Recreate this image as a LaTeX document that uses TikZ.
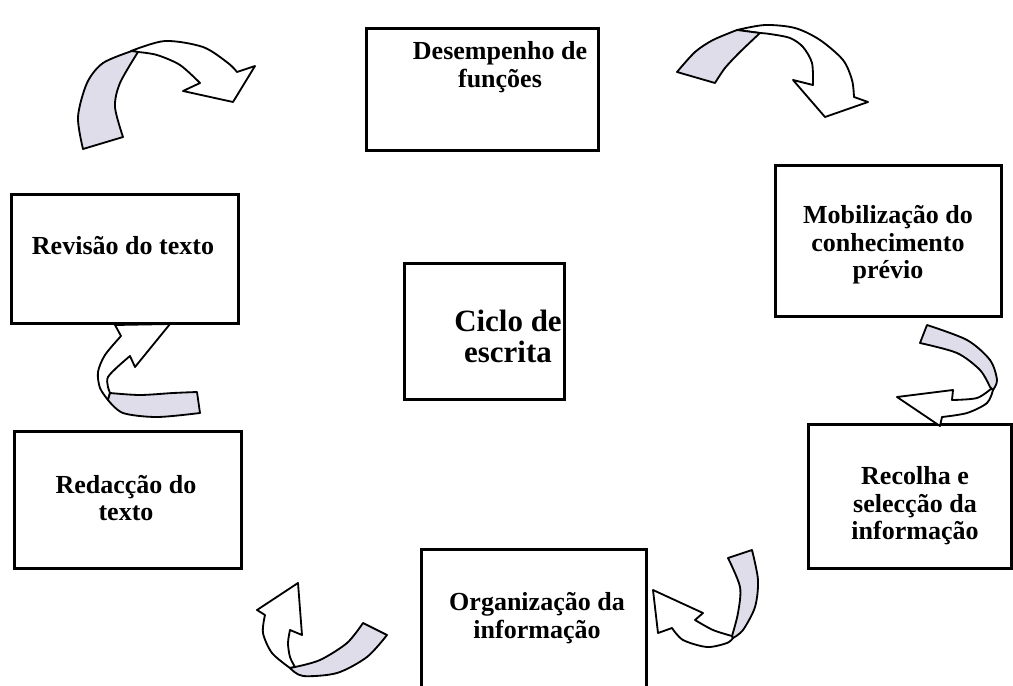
\documentclass[tikz,border=0pt]{standalone}
\usepackage{fontspec}
\setmainfont{Liberation Serif}
\usepackage{tikz}
\definecolor{ribbon}{RGB}{224,221,235}
\tikzset{x=0.025cm, y=-0.025cm,
  stage/.style={draw, line width=2pt, inner sep=0pt, anchor=north west},
  caption/.style={font=\bfseries\fontsize{18.5}{19.5}\selectfont, align=center},
  ribbonback/.style={draw, line width=1.3pt, fill=ribbon, line join=round},
  ribbonhead/.style={draw, line width=1.3pt, fill=white, line join=round}}

\begin{document}
\begin{tikzpicture}
  \clip (0,0) rectangle (1013,685);
  \fill[white] (0,0) rectangle (1013,685);

  % boxes
  \node[stage, minimum width=5.8cm, minimum height=3.05cm] (des) at (365,27) {};
  \node[stage, minimum width=5.65cm, minimum height=3.775cm] (mob) at (774,164) {};
  \node[stage, minimum width=5.675cm, minimum height=3.225cm] (rev) at (10,193) {};
  \node[stage, minimum width=4cm, minimum height=3.4cm] (cic) at (403,262) {};
  \node[stage, minimum width=5.075cm, minimum height=3.6cm] (rec) at (807,423) {};
  \node[stage, minimum width=5.675cm, minimum height=3.425cm] (red) at (13,430) {};
  \node[stage, minimum width=5.625cm, minimum height=3.8cm] (org) at (420,548) {};

  % texts
  \node[caption] (desT) at (500,67) {Desempenho de\\funções};
  \node[caption] (mobT) at (888,245) {Mobilização do\\conhecimento\\prévio};
  \node[caption] (revT) at (123,246) {Revisão do texto};
  \node[caption, font=\bfseries\fontsize{22}{22}\selectfont] (cicT) at (508,336) {Ciclo de\\escrita};
  \node[caption] (recT) at (915,506) {Recolha e\\selecção da\\informação};
  \node[caption] (redT) at (126,498) {Redacção do\\texto};
  \node[caption] (orgT) at (537,618) {Organização da\\informação};

  % ribbon arrows
  \filldraw[ribbonhead] plot[smooth] coordinates {(131,51) (165,41) (203,47) (228,63) (237,72)} -- (255,66) -- (233,102) -- (183,91) -- (200,83) -- plot[smooth] coordinates {(200,83) (180,65) (157,55) (138,52)} -- cycle;
  \filldraw[ribbonback] plot[smooth] coordinates {(83,149) (78,117) (87,83) (103,63) (132,51)} -- plot[smooth] coordinates {(138,52) (120,83) (115,107) (123,137)} -- cycle;

  \filldraw[ribbonhead] plot[smooth] coordinates {(737,30) (765,25) (795,28) (820,40) (843,60) (852,80) (854,97)} -- (868,102) -- (825,117) -- (793,80) -- (813,85) -- plot[smooth] coordinates {(813,85) (812,63) (803,47) (790,38) (770,34) (760,33)} -- cycle;
  \filldraw[ribbonback] plot[smooth] coordinates {(677,72) (695,52) (713,40) (737,30)} -- plot[smooth] coordinates {(760,33) (740,52) (725,68) (715,83)} -- cycle;

  \filldraw[ribbonhead] plot[smooth] coordinates {(993,390) (987,403) (967,413) (942,417)} -- (940,426) -- (897,397) -- (953,390) -- (952,400) -- plot[smooth] coordinates {(952,400) (977,398) (992,388)} -- cycle;
  \filldraw[ribbonback] plot[smooth] coordinates {(927,325) (967,340) (990,360) (997,380) (993,390)} -- plot[smooth] coordinates {(990,387) (980,370) (957,353) (920,343)} -- cycle;

  \filldraw[ribbonhead] plot[smooth] coordinates {(121,336) (105,355) (98,372) (100,388) (108,400)} -- plot[smooth] coordinates {(110,393) (108,377) (130,356)} -- (135,367) -- (170,324) -- (115,325) -- cycle;
  \filldraw[ribbonback] plot[smooth] coordinates {(108,400) (123,413) (157,417) (200,413)} -- (197,392) -- plot[smooth] coordinates {(197,392) (173,393) (140,395) (110,393)} -- cycle;

  \filldraw[ribbonhead] plot[smooth] coordinates {(733,638) (727,643) (707,647) (683,640) (672,628)} -- (658,633) -- (653,590) -- (703,613) -- (695,620) -- plot[smooth] coordinates {(695,620) (713,630) (732,636)} -- cycle;
  \filldraw[ribbonback] plot[smooth] coordinates {(752,550) (758,580) (755,607) (743,630) (733,638)} -- plot[smooth] coordinates {(732,636) (738,613) (740,587) (728,558)} -- cycle;

  \filldraw[ribbonhead] (298,583) -- (257,610) -- (265,615) -- plot[smooth] coordinates {(265,615) (263,633) (272,653) (290,668)} -- plot[smooth] coordinates {(295,667) (290,657) (288,643) (290,630)} -- (302,635) -- cycle;
  \filldraw[ribbonback] plot[smooth] coordinates {(290,668) (303,676) (337,673) (367,657) (387,635)} -- (363,623) -- plot[smooth] coordinates {(363,623) (347,643) (320,660) (295,667)} -- cycle;
\end{tikzpicture}
\end{document}
